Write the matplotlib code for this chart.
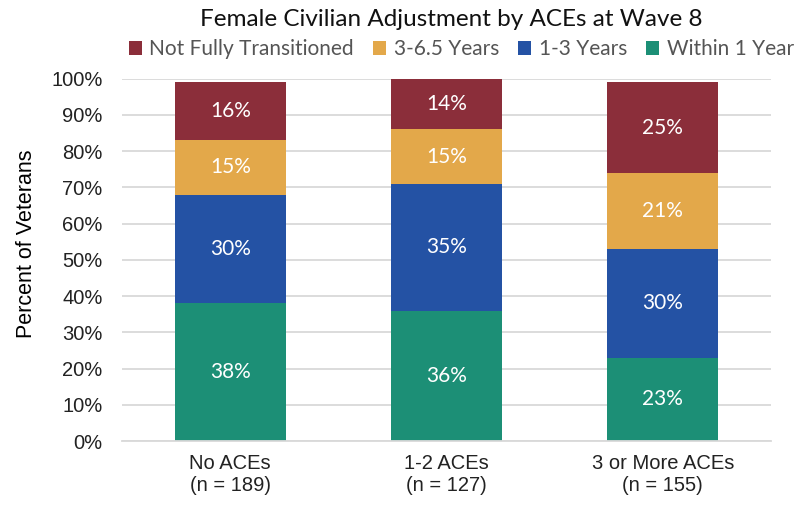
import matplotlib.pyplot as plt
import numpy as np
from matplotlib.ticker import PercentFormatter

groups = ["No ACEs\n(n = 189)", "1-2 ACEs\n(n = 127)", "3 or More ACEs\n(n = 155)"]
within_1 = [38, 36, 23]
years_1_3 = [30, 35, 30]
years_3_65 = [15, 15, 21]
not_full = [16, 14, 25]

series = [
    ("Within 1 Year", within_1, "#1C8F76"),
    ("1-3 Years", years_1_3, "#2452A4"),
    ("3-6.5 Years", years_3_65, "#E3A84A"),
    ("Not Fully Transitioned", not_full, "#8B2E3A"),
]

label_font = ["Lato", "DejaVu Sans"]
tick_font = ["Liberation Sans", "DejaVu Sans"]

fig = plt.figure(figsize=(8.09, 5.07), dpi=100)
ax = fig.add_axes([0.151, 0.130, 0.802, 0.715])

x = np.arange(len(groups))
bottom = np.zeros(len(groups))
handles = {}
for name, vals, color in series:
    vals = np.array(vals, dtype=float)
    bars = ax.bar(x, vals, 0.512, bottom=bottom, color=color, zorder=2)
    handles[name] = bars
    for xi, b, v in zip(x, bottom, vals):
        ax.text(xi, b + v / 2, f"{int(v)}%", ha="center", va="center",
                color="white", fontsize=15, family=label_font, zorder=3)
    bottom += vals

ax.set_xlim(-0.5, 2.5)
ax.set_ylim(0, 100)
ax.set_yticks(range(0, 101, 10))
ax.yaxis.set_major_formatter(PercentFormatter(decimals=0))
ax.set_xticks(x)
ax.set_xticklabels(groups, family=tick_font, fontsize=14.5, color="#222222")
for t in ax.get_yticklabels():
    t.set_family(tick_font)
    t.set_fontsize(14.5)
    t.set_color("#222222")
ax.tick_params(axis="y", length=0, pad=14)
ax.tick_params(axis="x", length=0, pad=9)
ax.grid(axis="y", color="#D9D9D9", linewidth=1.3, zorder=0)
for s in ["top", "right", "left"]:
    ax.spines[s].set_visible(False)
ax.spines["bottom"].set_color("#D9D9D9")
ax.spines["bottom"].set_linewidth(1.3)

ax.set_ylabel("Percent of Veterans", family=tick_font, fontsize=15.5, labelpad=10)
ax.yaxis.set_label_coords(-0.131, 0.545)

fig.text(0.558, 0.962, "Female Civilian Adjustment by ACEs at Wave 8", ha="center",
         va="center", fontsize=17.5, family=label_font, color="#111111")

order = ["Not Fully Transitioned", "3-6.5 Years", "1-3 Years", "Within 1 Year"]
leg = fig.legend([handles[n] for n in order], order, loc="center",
                 bbox_to_anchor=(0.570, 0.903), ncol=4, frameon=False,
                 prop={"family": label_font, "size": 15},
                 handlelength=0.65, handleheight=0.65, handletextpad=0.35,
                 columnspacing=0.9)
for t in leg.get_texts():
    t.set_color("#555555")

fig.savefig("out.png", dpi=100)
